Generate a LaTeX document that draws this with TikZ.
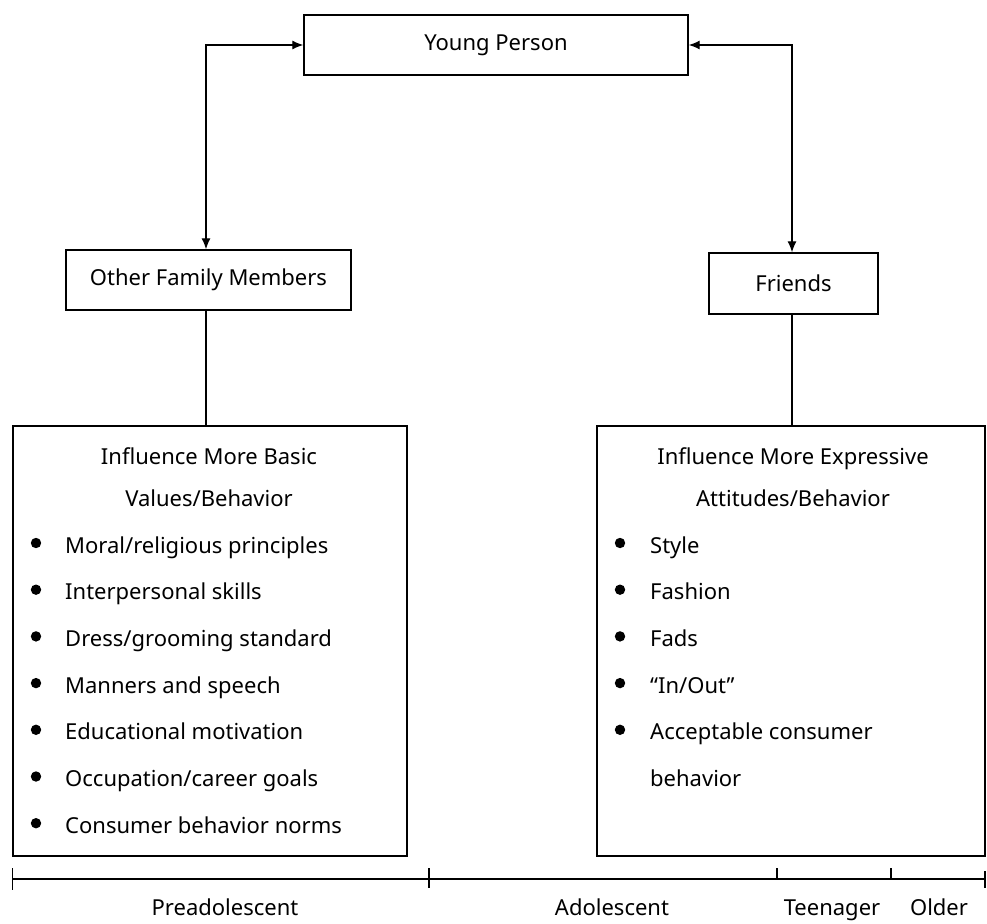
\documentclass[tikz,border=0pt]{standalone}
\usepackage{fontspec}
\setmainfont{Noto Sans}
\usetikzlibrary{arrows.meta,calc}
\begin{document}
\begin{tikzpicture}[x=1pt,y=-1pt,
  font=\fontsize{22}{26}\selectfont,
  box/.style={draw, line width=1.4pt, inner sep=0pt},
  conn/.style={line width=1.2pt},
  arr/.style={conn, {Latex[length=11pt,width=9pt]}-{Latex[length=11pt,width=9pt]}},
  txt/.style={inner sep=0pt, anchor=base},
  item/.style={inner sep=0pt, anchor=base west},
  bul/.style={fill=black}]
\useasboundingbox (0,0) rectangle (987,923);

\node[box, minimum width=384pt, minimum height=60pt] (yp) at (496,45) {Young Person};
\node[box, minimum width=285pt, minimum height=60pt] (ofm) at (208.5,280) {Other Family Members};
\node[box, minimum width=169pt, minimum height=61pt] (fr) at (793.5,283.5) {Friends};
\node[box, minimum width=394pt, minimum height=430pt] (basic) at (210,641) {};
\node[box, minimum width=388pt, minimum height=430pt] (expr) at (791,641) {};

\coordinate (lx) at (206,0);
\coordinate (rx) at (792,0);
\draw[arr] (yp.west) -| (ofm.north -| lx);
\draw[arr] (yp.east) -| (fr.north -| rx);
\draw[conn] (ofm.south -| lx) -- (basic.north -| lx);
\draw[conn] (fr.south -| rx) -- (expr.north -| rx);

% left box text
\node[txt] (b1) at (209,464) {Influence More Basic};
\node[txt] (b2) at (209,506) {Values/Behavior};
\foreach \t [count=\i] in {Moral/religious principles, Interpersonal skills, Dress/grooming standard, Manners and speech, Educational motivation, Occupation/career goals, Consumer behavior norms}{
  \fill[bul] (36,{543+46.7*(\i-1)}) circle (5.2pt);
  \node[item] (bl\i) at (65,{553+46.7*(\i-1)}) {\t};
}

% right box text
\node[txt] (e1) at (793,464) {Influence More Expressive};
\node[txt] (e2) at (793,506) {Attitudes/Behavior};
\foreach \t [count=\i] in {Style, Fashion, Fads, {“In/Out”}, Acceptable consumer}{
  \fill[bul] (620,{543+46.7*(\i-1)}) circle (5.2pt);
  \node[item] (el\i) at (650,{553+46.7*(\i-1)}) {\t};
}
\node[item] (el6) at (650,{553+46.7*5}) {behavior};

% timeline
\coordinate (t0) at (12.5,879);
\coordinate (t1) at (429,879);
\coordinate (t2) at (777,879);
\coordinate (t3) at (891,879);
\coordinate (t4) at (985,879);
\draw[conn] (t0) -- (t4);
\draw[conn] ($(t0)+(0,-11)$) -- ($(t0)+(0,11)$);
\draw[conn] ($(t1)+(0,-11)$) -- ($(t1)+(0,9)$);
\draw[conn] ($(t2)+(0,-11)$) -- (t2);
\draw[conn] ($(t3)+(0,-11)$) -- (t3);
\draw[conn] ($(t4)+(0,-8)$) -- ($(t4)+(0,9)$);

\node[txt] (l1) at (225,915) {Preadolescent};
\node[txt] (l2) at (612,915) {Adolescent};
\node[txt] (l3) at (832,915) {Teenager};
\node[txt] (l4) at (939,915) {Older};
\end{tikzpicture}
\end{document}
